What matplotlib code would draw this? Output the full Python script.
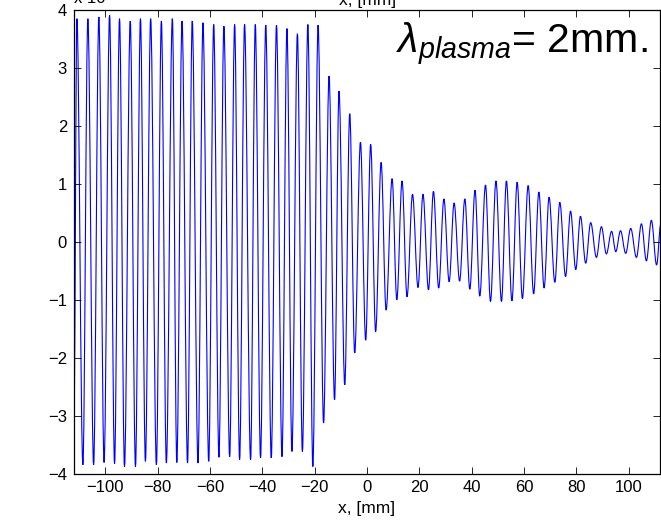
import matplotlib
matplotlib.use("Agg")
import matplotlib.pyplot as plt
from matplotlib.path import Path
from matplotlib.patches import PathPatch

plt.rcParams["font.family"] = ["Liberation Sans", "DejaVu Sans"]
plt.rcParams["mathtext.fontset"] = "custom"
plt.rcParams["mathtext.rm"] = "Liberation Sans"
plt.rcParams["mathtext.it"] = "Liberation Sans:italic"

# extrema of the trace (peaks and troughs), x in mm
x_pts = [-112.0, -110.9, -108.6, -106.7, -104.5, -102.5, -100.5, -98.4, -96.5, -94.6,
         -92.7, -90.5, -88.5, -86.6, -84.7, -82.7, -80.5, -78.6, -76.7, -74.4,
         -72.7, -70.7, -68.6, -66.8, -64.6, -62.7, -60.5, -58.6, -56.6, -54.7,
         -52.5, -50.6, -48.7, -46.8, -44.5, -42.7, -40.7, -38.7, -36.6, -34.6,
         -32.5, -30.6, -28.7, -26.6, -24.7, -22.6, -20.7, -18.7, -16.6, -14.5,
         -12.4, -10.7, -8.5, -6.6, -4.7, -2.5, -0.5, 1.4, 3.3, 5.4,
         7.3, 9.6, 11.4, 13.4, 15.3, 17.4, 19.5, 21.4, 23.5, 25.4,
         27.4, 29.4, 31.4, 33.3, 35.4, 37.4, 39.3, 41.3, 43.1, 45.3,
         47.2, 49.3, 51.4, 53.3, 55.4, 57.4, 59.4, 61.6, 63.7, 65.7,
         67.7, 69.6, 71.8, 73.7, 75.9, 77.8, 79.8, 81.6, 83.6, 85.5,
         87.7, 89.6, 91.5, 93.5, 95.1, 96.9, 98.9, 100.8, 103.0, 104.9,
         106.8, 108.7, 110.7, 112.3]
y_pts = [-3.0, 3.85, -3.85, 3.85, -3.85, 3.88, -3.81, 3.91, -3.83, 3.85,
         -3.88, 3.81, -3.88, 3.85, -3.79, 3.85, -3.85, 3.81, -3.82, 3.85,
         -3.81, 3.81, -3.82, 3.81, -3.82, 3.78, -3.79, 3.75, -3.72, 3.72,
         -3.71, 3.75, -3.76, 3.75, -3.76, 3.75, -3.73, 3.74, -3.73, 3.74,
         -3.71, 3.68, -3.62, 3.59, -3.62, 3.75, -3.88, 3.74, -3.13, 2.86,
         -2.73, 2.60, -2.47, 2.21, -1.92, 1.72, -1.70, 1.68, -1.55, 1.37,
         -1.18, 1.09, -1.00, 1.05, -0.95, 0.82, -0.79, 0.82, -0.83, 0.87,
         -0.80, 0.74, -0.69, 0.67, -0.68, 0.74, -0.82, 0.89, -0.94, 0.98,
         -1.03, 1.05, -1.03, 1.05, -1.02, 1.03, -0.98, 0.97, -0.90, 0.86,
         -0.80, 0.77, -0.70, 0.68, -0.60, 0.53, -0.48, 0.44, -0.37, 0.33,
         -0.27, 0.26, -0.21, 0.18, -0.17, 0.19, -0.20, 0.23, -0.27, 0.31,
         -0.33, 0.37, -0.40, 0.30]

x_ticks = [-100, -80, -60, -40, -20, 0, 20, 40, 60, 80, 100]
y_ticks = [-4, -3, -2, -1, 0, 1, 2, 3, 4]

fig = plt.figure(figsize=(6.61, 5.21), dpi=100)
ax = fig.add_axes([74 / 661, 47.5 / 521, 586 / 661, 463.5 / 521])

# join successive extrema with smooth half-wave curves (flat at each extremum)
verts = [(x_pts[0], y_pts[0])]
codes = [Path.MOVETO]
for i in range(1, len(x_pts)):
    x0, y0 = x_pts[i - 1], y_pts[i - 1]
    x1, y1 = x_pts[i], y_pts[i]
    d = 0.36 * (x1 - x0)
    verts += [(x0 + d, y0), (x1 - d, y1), (x1, y1)]
    codes += [Path.CURVE4] * 3
ax.add_patch(PathPatch(Path(verts, codes), fill=False, edgecolor="blue", lw=0.8))

ax.set_xlim(-112, 112)
ax.set_ylim(-4, 4)
ax.set_xticks(x_ticks)
ax.set_yticks(y_ticks)
ax.tick_params(direction="in", top=True, right=True, length=5, width=0.6,
               labelsize=12, pad=5)
for s in ax.spines.values():
    s.set_linewidth(0.9)
ax.set_xlabel("x, [mm]", fontsize=12.5, labelpad=4)

fig.text(396 / 661, 1 - 53 / 521, r"$\lambda_{plasma}$= 2mm.", fontsize=29.5,
         va="baseline", ha="left")

# clipped leftovers from the panel above
fig.text(368 / 661, 1 - 0 / 521, "x, [mm]", fontsize=12.5, ha="center", va="center")
fig.text(74 / 661, 1 - 3 / 521, "x 10", fontsize=12, ha="left", va="baseline")

fig.savefig("out.png", dpi=100)
